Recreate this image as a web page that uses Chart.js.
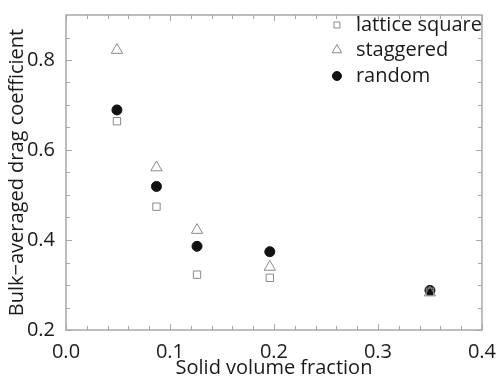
<!DOCTYPE html>
<html>
<head>
<meta charset="utf-8">
<script src="https://cdn.jsdelivr.net/npm/chart.js@4"></script>
<style>
  html, body { margin: 0; padding: 0; background: #fff; }
  #wrap { width: 498px; height: 380px; }
</style>
</head>
<body>
<div id="wrap"><canvas id="chart"></canvas></div>
<script>
// Datos
const xSquare = [0.049, 0.087, 0.126, 0.196, 0.35];
const ySquare = [0.664, 0.474, 0.323, 0.316, 0.285];
const xStag = [0.049, 0.087, 0.126, 0.196, 0.35];
const yStag = [0.822, 0.561, 0.422, 0.340, 0.283];
const xRand = [0.049, 0.087, 0.126, 0.196, 0.35];
const yRand = [0.689, 0.519, 0.386, 0.374, 0.288];

const xTicks = [0.0, 0.1, 0.2, 0.3, 0.4];
const yTicks = [0.2, 0.4, 0.6, 0.8];
const xMinor = [0.02, 0.04, 0.06, 0.08, 0.12, 0.14, 0.16, 0.18, 0.22, 0.24, 0.26, 0.28, 0.32, 0.34, 0.36, 0.38];
const yMinor = [0.25, 0.3, 0.35, 0.45, 0.5, 0.55, 0.65, 0.7, 0.75, 0.85];

const FONT = "'Open Sans', sans-serif";
const gris = '#8a8a8a';
const ejeColor = '#a8a8a8';
const texto = '#1a1a1a';

const toPts = (xs, ys) => xs.map((x, i) => ({ x, y: ys[i] }));

// Marco, ticks hacia adentro y leyenda dentro del area
const marcoPlugin = {
  id: 'marco',
  afterDraw(chart) {
    const { ctx, chartArea: a, scales } = chart;
    ctx.save();
    ctx.strokeStyle = ejeColor;
    ctx.lineWidth = 1.5;
    ctx.strokeRect(a.left, a.top, a.right - a.left, a.bottom - a.top);

    ctx.lineWidth = 1;
    const tickX = (v, len) => {
      const px = Math.round(scales.x.getPixelForValue(v)) + 0.5;
      ctx.beginPath();
      ctx.moveTo(px, a.bottom); ctx.lineTo(px, a.bottom - len);
      ctx.moveTo(px, a.top); ctx.lineTo(px, a.top + len);
      ctx.stroke();
    };
    const tickY = (v, len) => {
      const py = Math.round(scales.y.getPixelForValue(v)) + 0.5;
      ctx.beginPath();
      ctx.moveTo(a.left, py); ctx.lineTo(a.left + len, py);
      ctx.moveTo(a.right, py); ctx.lineTo(a.right - len, py);
      ctx.stroke();
    };
    xTicks.forEach(v => tickX(v, 6));
    xMinor.forEach(v => tickX(v, 4));
    yTicks.forEach(v => tickY(v, 6));
    yMinor.forEach(v => tickY(v, 4));
    ctx.restore();

    // Leyenda
    const filas = [25, 50, 76];
    const xm = a.right - 145;
    chart.data.datasets.forEach((ds, i) => {
      ctx.save();
      ctx.fillStyle = ds.backgroundColor;
      ctx.strokeStyle = ds.borderColor;
      ctx.lineWidth = 1;
      Chart.helpers.drawPoint(ctx, {
        pointStyle: ds.pointStyle,
        radius: ds.legendRadius,
        borderWidth: 1
      }, xm, filas[i]);
      ctx.font = '20px ' + FONT;
      ctx.textBaseline = 'middle';
      ctx.fillStyle = texto;
      ctx.fillText(ds.label, xm + 19, filas[i]);
      ctx.restore();
    });
  }
};

new Chart(document.getElementById('chart'), {
  type: 'scatter',
  data: {
    datasets: [
      {
        label: 'lattice square',
        data: toPts(xSquare, ySquare),
        pointStyle: 'rect',
        pointRadius: 5.2,
        legendRadius: 4.2,
        backgroundColor: 'rgba(255,255,255,0)',
        borderColor: gris,
        borderWidth: 1
      },
      {
        label: 'staggered',
        data: toPts(xStag, yStag),
        pointStyle: 'triangle',
        pointRadius: 6.5,
        legendRadius: 5.5,
        backgroundColor: 'rgba(255,255,255,0)',
        borderColor: gris,
        borderWidth: 1
      },
      {
        label: 'random',
        data: toPts(xRand, yRand),
        pointStyle: 'circle',
        pointRadius: 5,
        legendRadius: 4.5,
        backgroundColor: '#111',
        borderColor: '#111',
        borderWidth: 1
      }
    ]
  },
  options: {
    responsive: true,
    maintainAspectRatio: false,
    animation: false,
    layout: { padding: { left: 0, right: 15, top: 5, bottom: 0 } },
    plugins: {
      legend: { display: false },
      tooltip: { enabled: false }
    },
    scales: {
      x: {
        type: 'linear',
        min: 0, max: 0.4,
        afterBuildTicks: s => { s.ticks = xTicks.map(v => ({ value: v })); },
        afterFit: s => { s.height = 50; },
        grid: { display: false },
        border: { display: false },
        ticks: {
          color: texto,
          font: { family: FONT, size: 20 },
          padding: 2,
          maxRotation: 0,
          callback: v => v.toFixed(1)
        },
        title: {
          display: true,
          text: 'Solid volume fraction',
          color: texto,
          font: { family: FONT, size: 20 },
          padding: { top: -6, bottom: 0 }
        }
      },
      y: {
        type: 'linear',
        min: 0.2, max: 0.9,
        afterBuildTicks: s => { s.ticks = yTicks.map(v => ({ value: v })); },
        afterFit: s => { s.width = 66; },
        grid: { display: false },
        border: { display: false },
        ticks: {
          color: texto,
          font: { family: FONT, size: 20 },
          padding: 3,
          callback: v => v.toFixed(1)
        },
        title: {
          display: true,
          text: 'Bulk\u2212averaged drag coefficient',
          color: texto,
          font: { family: FONT, size: 20 },
          padding: { top: 5, bottom: 0 }
        }
      }
    }
  },
  plugins: [marcoPlugin]
});
</script>
</body>
</html>
